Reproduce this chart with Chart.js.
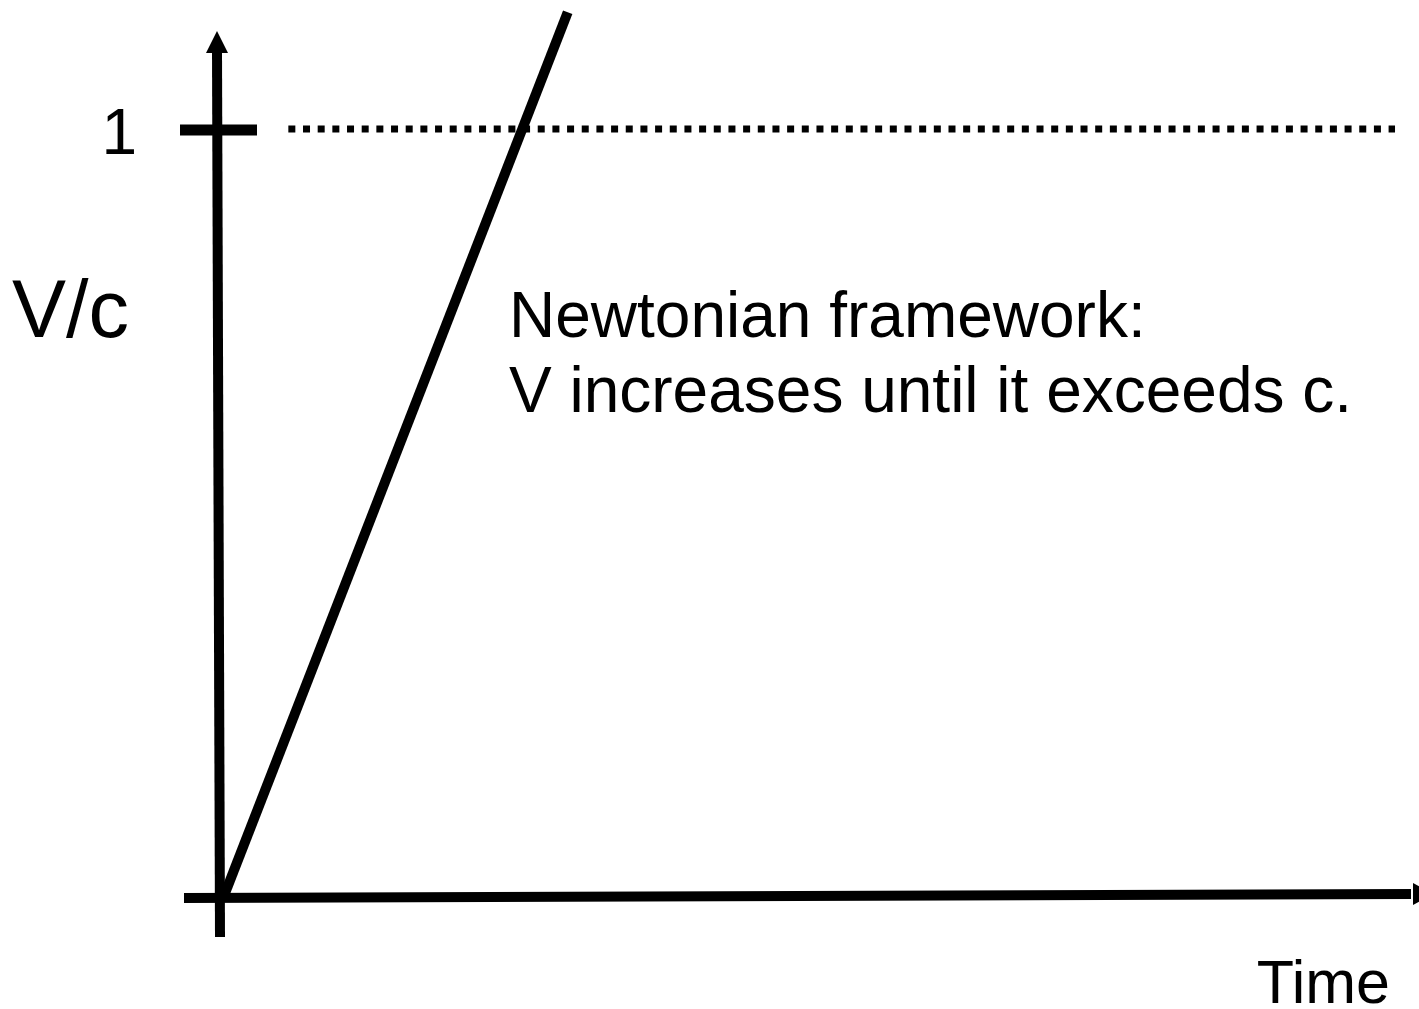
<!DOCTYPE html>
<html>
<head>
<meta charset="utf-8">
<script src="https://cdn.jsdelivr.net/npm/chart.js@4/dist/chart.umd.min.js"></script>
<style>
  html, body { margin: 0; padding: 0; background: #fff; }
  #wrap { width: 1419px; height: 1009px; position: relative; }
</style>
</head>
<body>
<div id="wrap"><canvas id="vcChart"></canvas></div>
<script>
// Newtonian velocity growing linearly with time
const newtonTime = [0.03, 2.9];
const newtonVc = [0, 1.152];

// speed of light limit (V/c = 1)
const limitTime = [0.57, 9.8];
const limitVc = [1, 1];

const yTickValues = [1];
const yTickLabels = ['1'];
const yAxisTitle = 'V/c';
const xAxisTitle = 'Time';
const noteLines = ['Newtonian framework:', 'V increases until it exceeds c.'];

const FONT = '"Liberation Sans", Arial, sans-serif';

function toPoints(xs, ys) {
    return xs.map((x, i) => ({ x: x, y: ys[i] }));
}

// axes with arrows, tick mark at V/c = 1 and all the labels
const axesPlugin = {
    id: 'arrowAxes',
    afterDatasetsDraw(chart) {
        const ctx = chart.ctx;
        const xs = chart.scales.x;
        const ys = chart.scales.y;
        const x0 = xs.getPixelForValue(0);
        const y0 = ys.getPixelForValue(0);

        ctx.save();
        ctx.fillStyle = '#000';
        ctx.strokeStyle = '#000';
        ctx.lineCap = 'butt';

        // vertical axis
        ctx.lineWidth = 10;
        ctx.beginPath();
        ctx.moveTo(x0, y0 + 40);
        ctx.lineTo(x0 - 3, 50);
        ctx.stroke();
        ctx.beginPath();
        ctx.moveTo(x0 - 3, 31);
        ctx.lineTo(x0 - 14, 53);
        ctx.lineTo(x0 + 8, 53);
        ctx.closePath();
        ctx.fill();

        // horizontal axis
        ctx.beginPath();
        ctx.moveTo(x0 - 36, y0 + 1);
        ctx.lineTo(chart.width - 8, y0 - 3);
        ctx.stroke();
        ctx.beginPath();
        ctx.moveTo(chart.width + 15, y0 - 3);
        ctx.lineTo(chart.width - 6, y0 - 14);
        ctx.lineTo(chart.width - 6, y0 + 8);
        ctx.closePath();
        ctx.fill();

        // tick marks and tick labels
        ctx.font = '64px ' + FONT;
        ctx.textAlign = 'right';
        ctx.textBaseline = 'alphabetic';
        yTickValues.forEach((v, i) => {
            const py = ys.getPixelForValue(v) + 1;
            ctx.lineWidth = 11;
            ctx.beginPath();
            ctx.moveTo(x0 - 40, py);
            ctx.lineTo(x0 + 37, py);
            ctx.stroke();
            ctx.fillText(yTickLabels[i], x0 - 83, py + 24);
        });

        // axis titles
        ctx.font = '81px ' + FONT;
        ctx.textAlign = 'left';
        ctx.fillText(yAxisTitle, 12, 337);

        ctx.font = '61px ' + FONT;
        ctx.textAlign = 'right';
        ctx.fillText(xAxisTitle, 1390, 1003);

        // annotation
        ctx.font = '64px ' + FONT;
        ctx.textAlign = 'left';
        noteLines.forEach((line, i) => {
            ctx.fillText(line, 509, 337 + i * 75);
        });

        ctx.restore();
    }
};

new Chart(document.getElementById('vcChart'), {
    type: 'scatter',
    data: {
        datasets: [
            {
                label: 'Newtonian',
                data: toPoints(newtonTime, newtonVc),
                showLine: true,
                borderColor: '#000',
                borderWidth: 10,
                borderCapStyle: 'butt',
                pointRadius: 0,
                clip: false
            },
            {
                label: 'V = c',
                data: toPoints(limitTime, limitVc),
                showLine: true,
                borderColor: '#000',
                borderWidth: 7,
                borderDash: [7, 7.67],
                borderCapStyle: 'butt',
                pointRadius: 0,
                clip: false
            }
        ]
    },
    options: {
        responsive: true,
        maintainAspectRatio: false,
        animation: false,
        layout: { padding: { left: 220, right: 0, top: 0, bottom: 112 } },
        scales: {
            x: { type: 'linear', min: 0, max: 10, display: false },
            y: { type: 'linear', min: 0, max: 897 / 768, display: false }
        },
        plugins: {
            legend: { display: false },
            tooltip: { enabled: false }
        }
    },
    plugins: [axesPlugin]
});
</script>
</body>
</html>
